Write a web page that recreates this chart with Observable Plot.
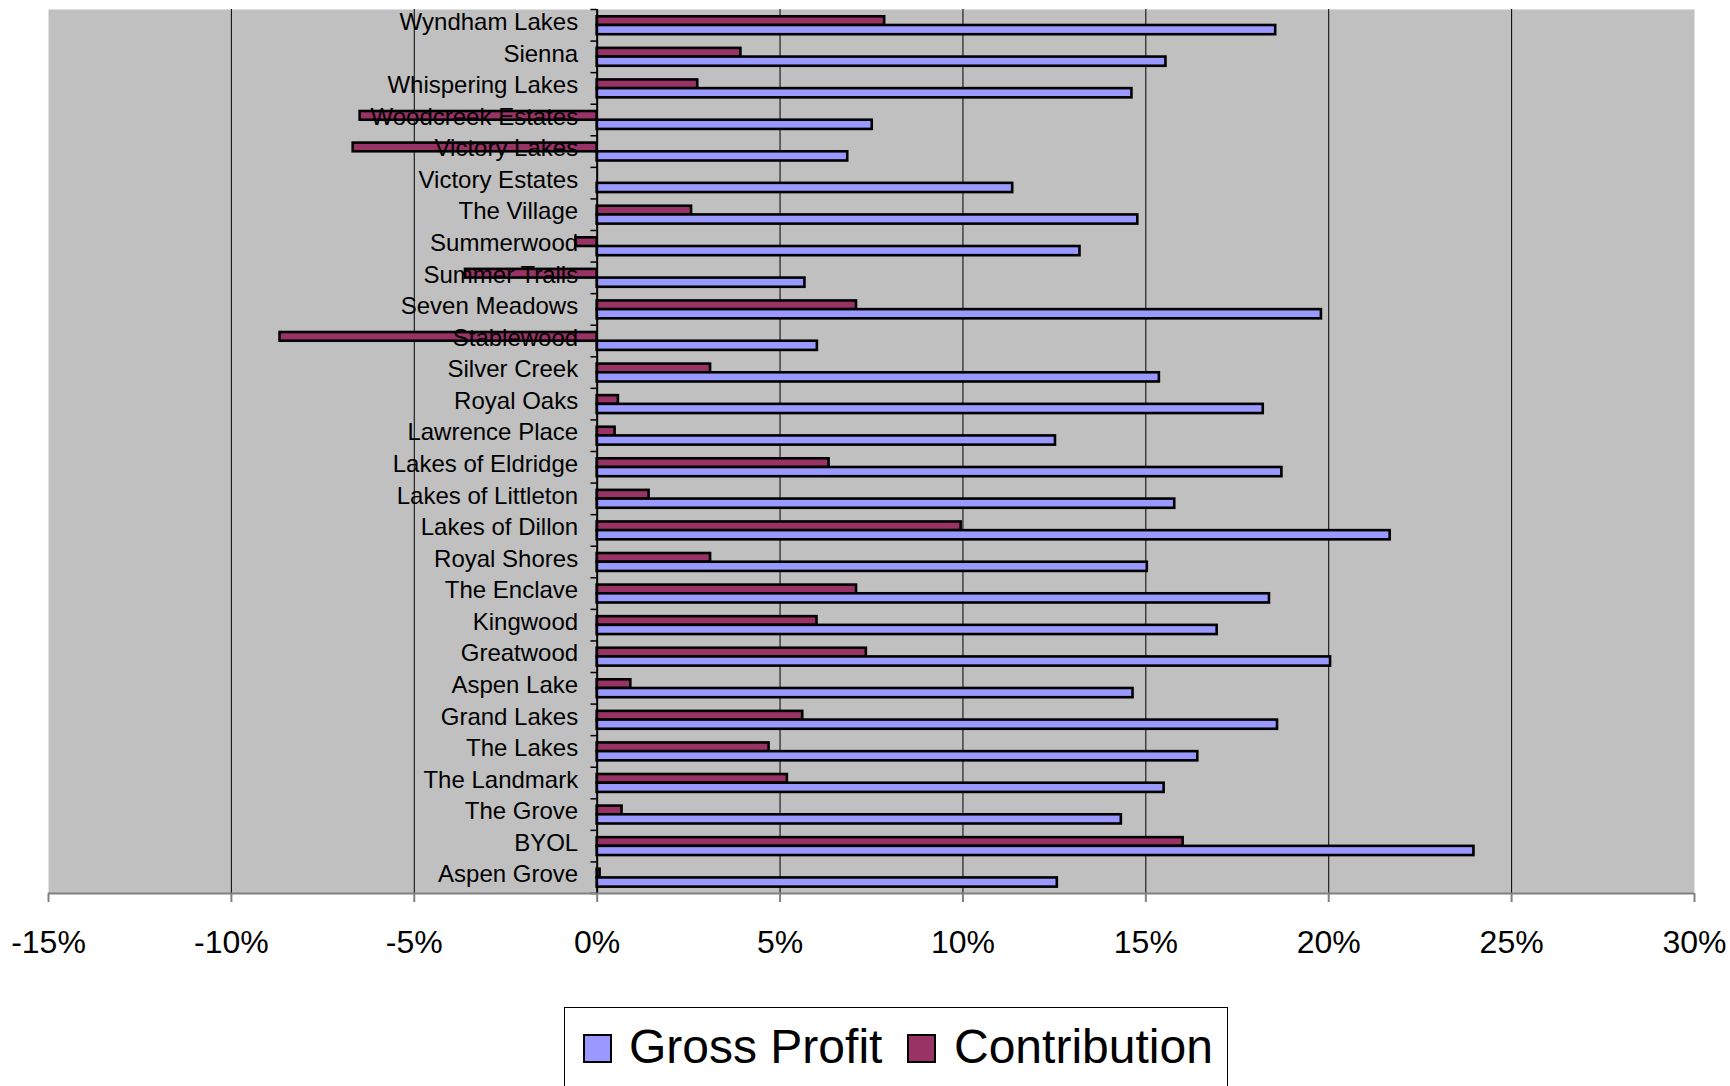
<!DOCTYPE html>
<html>
<head>
<meta charset="utf-8">
<script src="https://cdn.jsdelivr.net/npm/d3@7"></script>
<script src="https://cdn.jsdelivr.net/npm/@observablehq/plot@0.6"></script>
<style>
  html, body { margin: 0; padding: 0; background: #fff; }
  #wrap { position: relative; width: 1730px; height: 1086px; overflow: hidden; font-family: "Liberation Sans", Arial, sans-serif; }
  #chart { position: absolute; left: 0; top: 0; }
  #legend { position: absolute; left: 564px; top: 1007px; width: 664px; height: 110px; border: 1px solid #000; background: #fff; box-sizing: border-box; }
  .sw { position: absolute; top: 26px; width: 25px; height: 25px; border: 2px solid #000; }
  .lt { position: absolute; top: 15px; font-size: 48px; line-height: 48px; color: #000; white-space: nowrap; }
</style>
</head>
<body>
<div id="wrap">
  <div id="chart"></div>
  <div id="legend"></div>
</div>
<script>
const categories = ["Wyndham Lakes","Sienna","Whispering Lakes","Woodcreek Estates","Victory Lakes","Victory Estates","The Village","Summerwood","Summer Trails","Seven Meadows","Stablewood","Silver Creek","Royal Oaks","Lawrence Place","Lakes of Eldridge","Lakes of Littleton","Lakes of Dillon","Royal Shores","The Enclave","Kingwood","Greatwood","Aspen Lake","Grand Lakes","The Lakes","The Landmark","The Grove","BYOL","Aspen Grove"];
const grossProfit = [18.55,15.55,14.62,7.52,6.85,11.36,14.78,13.2,5.68,19.8,6.02,15.37,18.21,12.53,18.72,15.79,21.68,15.04,18.38,16.95,20.05,14.65,18.6,16.42,15.5,14.33,23.97,12.58];
const contribution = [7.86,3.93,2.75,-6.48,-6.67,0,2.58,-0.58,-3.6,7.09,-8.67,3.1,0.58,0.49,6.34,1.42,9.95,3.1,7.09,6.01,7.36,0.92,5.62,4.7,5.2,0.68,16.02,0.08];
const xTicks = [-15,-10,-5,0,5,10,15,20,25,30];
const gridTicks = [-10,-5,5,10,15,20,25];
const series = ["Gross Profit","Contribution"];
const colors = {"Gross Profit": "#9999FF", "Contribution": "#993366"};

const rows = categories.map((c, i) => ({category: c, gp: grossProfit[i], contrib: contribution[i]}));

const W = 1730, H = 1000, mT = 9, mB = 107, mL = 48, mR = 36;
const band = (H - mT - mB) / categories.length;

const chart = Plot.plot({
  width: W,
  height: H,
  marginTop: mT,
  marginBottom: mB,
  marginLeft: mL,
  marginRight: mR,
  style: {fontFamily: '"Liberation Sans", Arial, sans-serif', background: "#fff", color: "#000"},
  x: {domain: [xTicks[0], xTicks[xTicks.length - 1]]},
  y: {domain: categories, padding: 0, round: false, axis: null},
  marks: [
    Plot.frame({fill: "#C0C0C0", stroke: null}),
    Plot.ruleX(gridTicks, {stroke: "#000", strokeWidth: 1}),
    Plot.barX(rows, {x: "contrib", y: "category", fill: colors["Contribution"], stroke: "#000", strokeWidth: 2.6, insetTop: 7.3, insetBottom: band - 16}),
    Plot.barX(rows, {x: "gp", y: "category", fill: colors["Gross Profit"], stroke: "#000", strokeWidth: 2.6, insetTop: 16, insetBottom: band - 25.2}),
    Plot.ruleX([0], {stroke: "#000", strokeWidth: 2}),
    Plot.ruleY(categories, {y: d => d, x1: -0.17, x2: 0, dy: -band / 2, stroke: "#000", strokeWidth: 1.5}),
    Plot.ruleY([categories[categories.length - 1]], {y: d => d, x1: -0.17, x2: 0, dy: band / 2, stroke: "#000", strokeWidth: 1.5}),
    Plot.text(categories, {x: () => 0, y: d => d, text: d => d, textAnchor: "end", dx: -19, dy: -3, fontSize: 24, fill: "#000"}),
    Plot.ruleY([categories[categories.length - 1]], {y: d => d, dy: band / 2, stroke: "#808080", strokeWidth: 2}),
    Plot.axisX(xTicks, {anchor: "bottom", tickSize: 9, tickPadding: 28, fontSize: 32, stroke: "#808080", strokeWidth: 2, fill: "#000", tickFormat: d => d + "%"})
  ]
});
document.getElementById("chart").appendChild(chart);

// Legend built from series names
const legend = document.getElementById("legend");
const swLeft = [18, 342];
const txLeft = [64, 389];
series.forEach((s, i) => {
  const sw = document.createElement("div");
  sw.className = "sw";
  sw.style.left = swLeft[i] + "px";
  sw.style.background = colors[s];
  legend.appendChild(sw);
  const t = document.createElement("div");
  t.className = "lt";
  t.style.left = txLeft[i] + "px";
  t.textContent = s;
  legend.appendChild(t);
});
</script>
</body>
</html>
